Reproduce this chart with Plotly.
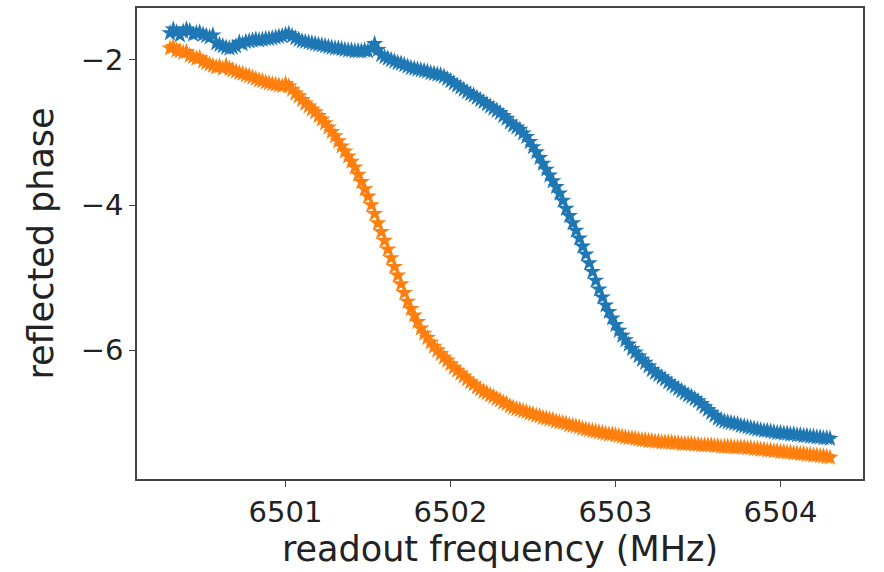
import numpy as np
import plotly.graph_objects as go

# readout frequency sweep (MHz): 201 points from 6500.30 to 6504.30
freq_mhz = np.round(np.linspace(6500.30, 6504.30, 201), 4)

phase_state0 = [
    -1.63, -1.58, -1.62, -1.66, -1.61, -1.58, -1.60, -1.65, -1.63, -1.62,
    -1.65, -1.67, -1.69, -1.66, -1.77, -1.79, -1.81, -1.83, -1.84, -1.83,
    -1.81, -1.76, -1.78, -1.75, -1.74, -1.73, -1.72, -1.73, -1.72, -1.71,
    -1.71, -1.70, -1.69, -1.68, -1.67, -1.65, -1.64, -1.67, -1.70, -1.72,
    -1.74, -1.75, -1.76, -1.77, -1.78, -1.79, -1.80, -1.81, -1.82, -1.83,
    -1.84, -1.84, -1.85, -1.86, -1.87, -1.87, -1.88, -1.88, -1.88, -1.87,
    -1.88, -1.84, -1.78, -1.86, -1.93, -1.96, -1.98, -2.00, -2.02, -2.04,
    -2.05, -2.07, -2.09, -2.11, -2.12, -2.13, -2.14, -2.15, -2.16, -2.18,
    -2.19, -2.20, -2.21, -2.23, -2.26, -2.29, -2.32, -2.35, -2.38, -2.41,
    -2.44, -2.47, -2.49, -2.52, -2.55, -2.58, -2.61, -2.64, -2.67, -2.70,
    -2.73, -2.77, -2.81, -2.86, -2.90, -2.93, -2.96, -3.01, -3.06, -3.13,
    -3.20, -3.27, -3.35, -3.43, -3.51, -3.59, -3.67, -3.75, -3.84, -3.94,
    -4.05, -4.15, -4.25, -4.35, -4.46, -4.57, -4.68, -4.80, -4.92, -5.04,
    -5.16, -5.27, -5.38, -5.47, -5.56, -5.65, -5.73, -5.80, -5.86, -5.92,
    -5.98, -6.03, -6.08, -6.13, -6.17, -6.22, -6.27, -6.31, -6.34, -6.37,
    -6.40, -6.44, -6.47, -6.50, -6.53, -6.56, -6.59, -6.62, -6.64, -6.67,
    -6.70, -6.74, -6.78, -6.82, -6.86, -6.90, -6.94, -6.96, -6.98, -6.99,
    -7.00, -7.01, -7.02, -7.04, -7.05, -7.06, -7.07, -7.08, -7.09, -7.10,
    -7.11, -7.11, -7.12, -7.13, -7.14, -7.14, -7.15, -7.15, -7.16, -7.16,
    -7.17, -7.17, -7.18, -7.18, -7.19, -7.19, -7.20, -7.20, -7.21, -7.21,
    -7.22,
]

phase_state1 = [
    -1.84, -1.82, -1.87, -1.88, -1.90, -1.89, -1.94, -1.96, -1.98, -1.97,
    -2.02, -2.04, -2.06, -2.08, -2.10, -2.09, -2.12, -2.08, -2.12, -2.14,
    -2.16, -2.18, -2.19, -2.21, -2.22, -2.24, -2.26, -2.28, -2.29, -2.31,
    -2.32, -2.33, -2.34, -2.35, -2.36, -2.33, -2.36, -2.41, -2.46, -2.50,
    -2.55, -2.60, -2.64, -2.68, -2.72, -2.77, -2.82, -2.87, -2.93, -2.99,
    -3.05, -3.12, -3.19, -3.26, -3.33, -3.40, -3.48, -3.58, -3.68, -3.78,
    -3.88, -4.00, -4.12, -4.25, -4.37, -4.49, -4.61, -4.73, -4.85, -4.97,
    -5.09, -5.21, -5.33, -5.43, -5.52, -5.61, -5.70, -5.77, -5.83, -5.89,
    -5.95, -6.00, -6.05, -6.10, -6.14, -6.19, -6.24, -6.28, -6.32, -6.36,
    -6.40, -6.44, -6.47, -6.51, -6.54, -6.57, -6.59, -6.62, -6.64, -6.67,
    -6.69, -6.72, -6.74, -6.77, -6.79, -6.81, -6.82, -6.84, -6.85, -6.87,
    -6.88, -6.90, -6.91, -6.93, -6.94, -6.95, -6.96, -6.98, -6.99, -7.00,
    -7.01, -7.03, -7.04, -7.05, -7.06, -7.08, -7.09, -7.10, -7.11, -7.12,
    -7.13, -7.14, -7.15, -7.16, -7.16, -7.17, -7.18, -7.19, -7.20, -7.21,
    -7.21, -7.22, -7.23, -7.24, -7.24, -7.25, -7.25, -7.26, -7.26, -7.27,
    -7.27, -7.27, -7.27, -7.28, -7.28, -7.29, -7.29, -7.29, -7.29, -7.30,
    -7.30, -7.31, -7.31, -7.31, -7.31, -7.32, -7.32, -7.33, -7.33, -7.33,
    -7.33, -7.34, -7.34, -7.34, -7.34, -7.35, -7.35, -7.36, -7.36, -7.37,
    -7.37, -7.38, -7.38, -7.39, -7.39, -7.40, -7.40, -7.41, -7.41, -7.42,
    -7.42, -7.43, -7.43, -7.44, -7.44, -7.45, -7.45, -7.46, -7.46, -7.47,
    -7.48,
]

x_ticks = [6501, 6502, 6503, 6504]
y_ticks = [-2, -4, -6]
y_tick_labels = ["\u22122", "\u22124", "\u22126"]

colors = ["#1f77b4", "#ff7f0e"]

fig = go.Figure()
for ys, c in zip([phase_state0, phase_state1], colors):
    fig.add_trace(go.Scatter(
        x=freq_mhz, y=ys, mode="markers",
        marker=dict(symbol="star", size=13, color=c, line=dict(width=0)),
        showlegend=False,
    ))

# matplotlib-like 5% margins
xmin, xmax = float(freq_mhz.min()), float(freq_mhz.max())
allv = phase_state0 + phase_state1
ymin, ymax = min(allv), max(allv)
dx, dy = 0.05 * (xmax - xmin), 0.05 * (ymax - ymin)

font_family = "DejaVu Sans"
axis_common = dict(
    showgrid=False, zeroline=False, showline=True, mirror=True,
    linecolor="#444", linewidth=1.5,
    ticks="outside", ticklen=6, tickwidth=1.2, tickcolor="#444",
    tickfont=dict(family=font_family, size=29, color="#222"),
)

fig.update_layout(
    width=884, height=572,
    margin=dict(l=137, r=21, t=6, b=93),
    paper_bgcolor="white", plot_bgcolor="white",
    font=dict(family=font_family, color="#222"),
    xaxis=dict(
        range=[xmin - dx, xmax + dx], tickvals=x_ticks,
        ticktext=[str(t) for t in x_ticks],
        title=dict(text="readout frequency (MHz)", standoff=2,
                   font=dict(family=font_family, size=35, color="#222")),
        **axis_common,
    ),
    yaxis=dict(
        range=[ymin - dy, ymax + dy], tickvals=y_ticks, ticktext=y_tick_labels,
        title=dict(text="reflected phase", standoff=16,
                   font=dict(family=font_family, size=35, color="#222")),
        **axis_common,
    ),
)

fig.write_html("out.html", config={"displayModeBar": False},
               post_script="document.body.style.margin='0';")
